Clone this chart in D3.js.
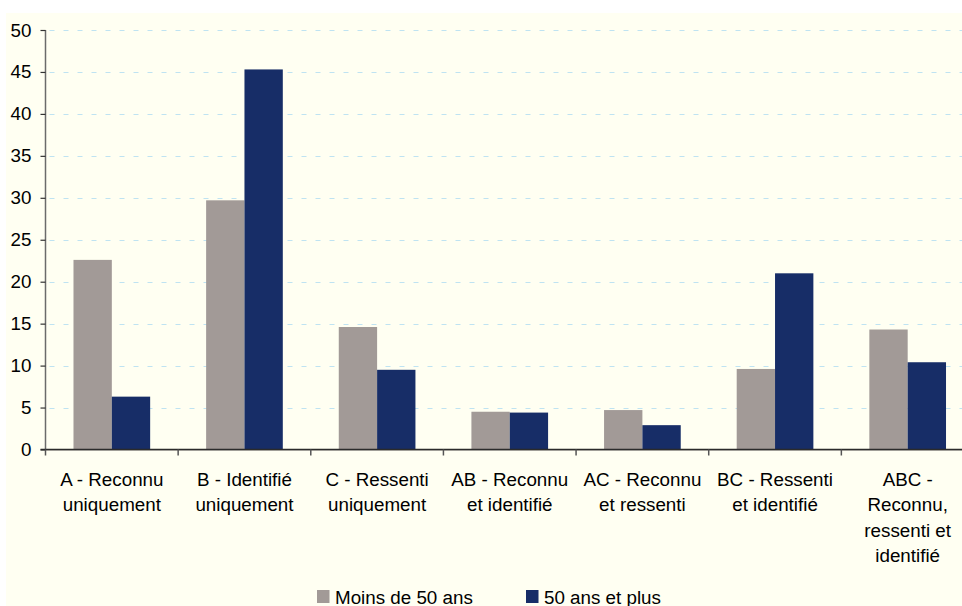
<!DOCTYPE html>
<html>
<head>
<meta charset="utf-8">
<script src="https://cdn.jsdelivr.net/npm/d3@7"></script>
<style>
  html, body { margin: 0; padding: 0; background: #ffffff; }
  svg { display: block; }
  text { font-family: "Liberation Sans", Arial, sans-serif; fill: #000; }
</style>
</head>
<body>
<svg id="chart" width="962" height="606"></svg>
<script>
// Category labels, one entry per wrapped line
const categories = [
  ["A - Reconnu", "uniquement"],
  ["B - Identifié", "uniquement"],
  ["C - Ressenti", "uniquement"],
  ["AB - Reconnu", "et identifié"],
  ["AC - Reconnu", "et ressenti"],
  ["BC - Ressenti", "et identifié"],
  ["ABC -", "Reconnu,", "ressenti et", "identifié"]
];
const seriesNames = ["Moins de 50 ans", "50 ans et plus"];
const moins50 = [22.6, 29.7, 14.6, 4.5, 4.7, 9.6, 14.3];
const plus50 = [6.3, 45.3, 9.5, 4.4, 2.9, 21.0, 10.4];
const yTicks = [0, 5, 10, 15, 20, 25, 30, 35, 40, 45, 50];

const colors = ["#a29a97", "#172d67"];
const fontSize = 18.8;

const svg = d3.select("#chart");

// cream panel behind the chart
svg.append("rect")
  .attr("x", 6).attr("y", 13)
  .attr("width", 962 - 6).attr("height", 606 - 13)
  .attr("fill", "#fffff2");

const plotLeft = 45.5, plotRight = 974, plotTop = 30, plotBottom = 449.5;

const x = d3.scaleBand()
  .domain(d3.range(categories.length))
  .range([plotLeft, plotRight])
  .paddingInner(0).paddingOuter(0);

const inner = d3.scaleBand()
  .domain([0, 1])
  .range([0, x.bandwidth()])
  .paddingInner(0)
  .paddingOuter(0.73);

const y = d3.scaleLinear().domain([0, 50]).range([plotBottom, plotTop]);

// dashed horizontal gridlines
svg.append("g")
  .selectAll("line")
  .data(yTicks.filter(d => d > 0))
  .join("line")
  .attr("x1", plotLeft + 4).attr("x2", 962)
  .attr("y1", d => Math.round(y(d)) + 0.5)
  .attr("y2", d => Math.round(y(d)) + 0.5)
  .attr("stroke", "#bfe3f2")
  .attr("stroke-width", 1)
  .attr("stroke-dasharray", "5,9");

// bars
const data = [moins50, plus50];
const groups = svg.append("g")
  .selectAll("g")
  .data(categories.map((c, i) => i))
  .join("g")
  .attr("transform", i => `translate(${x(i)},0)`);

groups.selectAll("rect")
  .data(i => data.map((s, k) => ({ k, v: s[i] })))
  .join("rect")
  .attr("x", d => inner(d.k))
  .attr("width", inner.bandwidth())
  .attr("y", d => y(d.v))
  .attr("height", d => y(0) - y(d.v))
  .attr("fill", d => colors[d.k]);

// y axis
const yAxis = d3.axisLeft(y).tickValues(yTicks).tickSize(5).tickPadding(9);
const gy = svg.append("g")
  .attr("transform", `translate(${plotLeft},0)`)
  .call(yAxis);
gy.select(".domain").attr("stroke", "#6b6b6b").attr("stroke-width", 1.5)
  .attr("d", `M0,${plotTop}V${plotBottom}`);
gy.selectAll(".tick line").attr("stroke", "#333").attr("stroke-width", 1.2);
gy.selectAll(".tick text")
  .style("font-family", "'Liberation Sans', Arial, sans-serif")
  .style("font-size", fontSize + "px")
  .attr("fill", "#000");

// x axis with ticks between categories
const boundaries = d3.range(categories.length + 1).map(i => plotLeft + i * x.step());
svg.append("line")
  .attr("x1", plotLeft).attr("x2", 962)
  .attr("y1", plotBottom + 1).attr("y2", plotBottom + 1)
  .attr("stroke", "#c8c6bc").attr("stroke-width", 1);
svg.append("line")
  .attr("x1", plotLeft - 5).attr("x2", 962)
  .attr("y1", plotBottom).attr("y2", plotBottom)
  .attr("stroke", "#2b2b2b").attr("stroke-width", 1.5);
svg.append("g")
  .selectAll("line")
  .data(boundaries)
  .join("line")
  .attr("x1", d => d).attr("x2", d => d)
  .attr("y1", plotBottom).attr("y2", plotBottom + 6)
  .attr("stroke", "#555").attr("stroke-width", 1.5);

// category labels
const labels = svg.append("g")
  .selectAll("text")
  .data(categories)
  .join("text")
  .attr("text-anchor", "middle")
  .attr("x", (d, i) => x(i) + x.bandwidth() / 2)
  .attr("y", 486)
  .style("font-size", fontSize + "px");
labels.selectAll("tspan")
  .data(d => d)
  .join("tspan")
  .attr("x", function () { return d3.select(this.parentNode).attr("x"); })
  .attr("dy", (d, j) => j === 0 ? 0 : 25.3)
  .text(d => d);

// legend
const legendItems = [
  { name: seriesNames[0], color: colors[0], x: 317 },
  { name: seriesNames[1], color: colors[1], x: 526 }
];
const lg = svg.append("g")
  .selectAll("g")
  .data(legendItems)
  .join("g")
  .attr("transform", d => `translate(${d.x},590)`);
lg.append("rect")
  .attr("width", 12.5).attr("height", 13)
  .attr("fill", d => d.color);
lg.append("text")
  .attr("x", 18).attr("y", 13.5)
  .style("font-size", fontSize + "px")
  .text(d => d.name);
</script>
</body>
</html>
